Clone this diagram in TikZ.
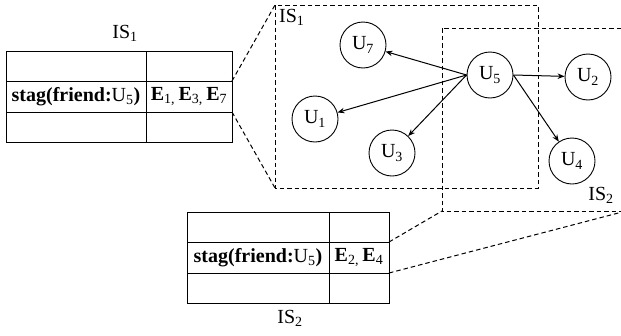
\documentclass[tikz,border=0pt]{standalone}
\usepackage{fontspec}
\setmainfont{Liberation Serif}
\usetikzlibrary{arrows.meta}
\begin{document}
\begin{tikzpicture}[x=1pt,y=-1pt,
  every node/.style={font=\fontsize{20}{24}\selectfont, inner sep=0pt},
  user/.style={draw, circle, minimum size=46pt, line width=0.9pt},
  tbl/.style={draw, line width=0.8pt, anchor=north west},
  cellline/.style={line width=0.8pt},
  zoomline/.style={line width=1pt, dash pattern=on 4.5pt off 3pt},
  link/.style={line width=1pt, -{Stealth[length=7pt,width=5.5pt]}}]
\useasboundingbox (0,0) rectangle (621,335);
% table 1
\node[tbl, minimum width=226pt, minimum height=91pt] (T1) at (6,51) {};
\draw[cellline] (6,81) -- (232,81) (6,112) -- (232,112) (146,51) -- (146,142);
\node (T1a) at (76,96.5) {\textbf{stag(friend:}U\textsubscript{5}\textbf{)}};
\node (T1b) at (189,96.5) {\textbf{E}\textsubscript{1,}\,\textbf{E}\textsubscript{3,}\,\textbf{E}\textsubscript{7}};
\node (L1) at (125,33) {IS\textsubscript{1}};
% table 2
\node[tbl, minimum width=202pt, minimum height=91pt] (T2) at (187,212) {};
\draw[cellline] (187,242) -- (389,242) (187,273) -- (389,273) (329,212) -- (329,303);
\node (T2a) at (258,257.5) {\textbf{stag(friend:}U\textsubscript{5}\textbf{)}};
\node (T2b) at (359,257.5) {\textbf{E}\textsubscript{2,}\,\textbf{E}\textsubscript{4}};
\node (L2) at (290,318) {IS\textsubscript{2}};
% zoom boxes
\coordinate (A1) at (275,5);
\coordinate (A2) at (538,188);
\coordinate (A3) at (275,188);
\coordinate (B1) at (442,28);
\coordinate (B2) at (626,211);
\coordinate (B3) at (442,211);
\draw[zoomline] (A1) rectangle (A2);
\draw[zoomline] (B1) rectangle (B2);
\node[anchor=north west] (LB1) at (279,9) {IS\textsubscript{1}};
\node (LB2) at (601,195) {IS\textsubscript{2}};
\coordinate (P1) at (232,81);
\coordinate (P2) at (232,112);
\coordinate (P3) at (389,242);
\coordinate (P4) at (389,273);
\draw[zoomline] (P1) -- (A1);
\draw[zoomline] (P2) -- (A3);
\draw[zoomline] (P3) -- (B3);
\draw[zoomline] (P4) -- (B2);
% users
\node[user] (U5) at (490,75) {U\textsubscript{5}};
\node[user] (U7) at (363,45) {U\textsubscript{7}};
\node[user] (U1) at (315,119) {U\textsubscript{1}};
\node[user] (U3) at (392,153) {U\textsubscript{3}};
\node[user] (U2) at (588,77) {U\textsubscript{2}};
\node[user] (U4) at (572,161) {U\textsubscript{4}};
\draw[link] (U5.west) -- (U7);
\draw[link] (U5.west) -- (U1);
\draw[link] (U5.west) -- (U3);
\draw[link] (U5.east) -- (U2);
\draw[link] (U5.east) -- (U4);
\end{tikzpicture}
\end{document}
